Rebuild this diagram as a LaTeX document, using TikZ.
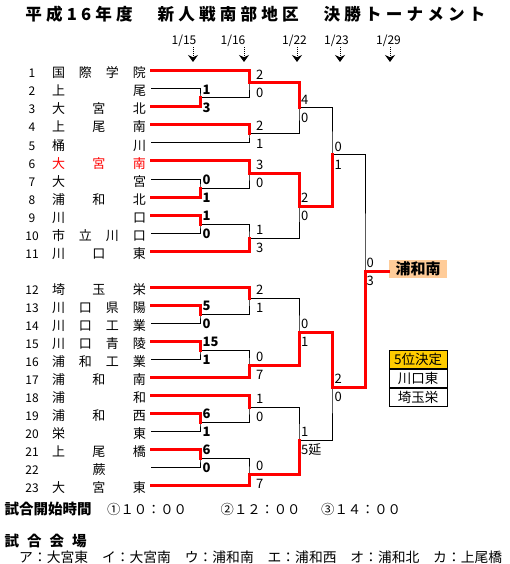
\documentclass[tikz,border=0pt]{standalone}
\usepackage{fontspec}
\setmainfont{Noto Sans CJK JP}
\usepackage{tikz}
\usepackage{xcolor}
\usetikzlibrary{arrows.meta, positioning}
\definecolor{WinRed}{HTML}{FF0000}
\definecolor{ChampPeach}{HTML}{FFCC99}
\definecolor{PlaceGold}{HTML}{FFCC00}
\newcommand{\spreadname}[1]{\hbox to 94pt{#1}}
\tikzset{
    % Team names and numbers
    teamname/.style={
        inner sep=0pt,
        outer xsep=5pt,
        text height=14pt,
        text depth=0pt,
        font=\fontsize{13}{13}\selectfont
    },
    teamno/.style={
        inner sep=0pt,
        text height=14pt,
        text depth=0pt,
        font=\fontsize{12}{12}\selectfont
    },
    % Bracket lines
    loseline/.style={
        draw=black,
        line width=1pt
    },
    winline/.style={
        draw=WinRed,
        line width=3pt,
        line cap=rect
    },
    % Scores
    score/.style={
        anchor=west,
        inner sep=0pt,
        font=\fontsize{13}{13}\selectfont
    },
    firstscore/.style={
        score,
        font=\fontsize{13}{13}\selectfont\bfseries
    },
    % Dates
    datelabel/.style={
        inner sep=0pt,
        font=\fontsize{12}{12}\selectfont
    },
    datearrow/.style={
        -{Stealth[length=7pt,width=10pt]},
        line width=1pt,
        dash pattern=on 1pt off 1pt
    },
    % Result boxes
    champbox/.style={
        rectangle,
        fill=ChampPeach,
        minimum width=58pt,
        minimum height=18pt,
        inner sep=0pt,
        font=\fontsize{15}{15}\selectfont\bfseries
    },
    placebox/.style={
        rectangle,
        draw=black,
        line width=1pt,
        fill=white,
        minimum width=58pt,
        minimum height=18pt,
        inner sep=0pt,
        font=\fontsize{13.5}{13.5}\selectfont
    },
    notetext/.style={
        anchor=west,
        inner sep=0pt,
        font=\fontsize{13.8}{13.8}\selectfont
    }
}
\begin{document}
\begin{tikzpicture}[x=1pt, y=-1pt]
    \path[use as bounding box, fill=white] (0,0) rectangle (509,564);

    % Title
    \node[font=\fontsize{16.6}{16.6}\selectfont\bfseries\addfontfeature{LetterSpace=25}] (title) at (255.5,14) {平成16年度　新人戦南部地区　決勝トーナメント};

    % Dates
    \node[datelabel] (date15) at (184,41) {1/15};
    \node[datelabel] (date16) at (233,41) {1/16};
    \node[datelabel] (date22) at (294.5,41) {1/22};
    \node[datelabel] (date23) at (336.5,41) {1/23};
    \node[datelabel] (date29) at (388.5,41) {1/29};
    \coordinate (tip15) at (193,62);
    \coordinate (tip16) at (244,62);
    \coordinate (tip22) at (297,62);
    \coordinate (tip23) at (340,62);
    \coordinate (tip29) at (390,62);
    \draw[datearrow] (tip15 |- date15.south) -- (tip15);
    \draw[datearrow] (tip16 |- date16.south) -- (tip16);
    \draw[datearrow] (tip22 |- date22.south) -- (tip22);
    \draw[datearrow] (tip23 |- date23.south) -- (tip23);
    \draw[datearrow] (tip29 |- date29.south) -- (tip29);

    % Teams
    \node[teamno] (n1) at (32,71) {1};   \node[teamname] (t1) at (99,71) {\spreadname{国\hfill 際\hfill 学\hfill 院}};
    \node[teamno] (n2) at (32,89) {2};   \node[teamname] (t2) at (99,89) {\spreadname{上\hfill 尾}};
    \node[teamno] (n3) at (32,107) {3};  \node[teamname] (t3) at (99,107) {\spreadname{大\hfill 宮\hfill 北}};
    \node[teamno] (n4) at (32,125) {4};  \node[teamname] (t4) at (99,125) {\spreadname{上\hfill 尾\hfill 南}};
    \node[teamno] (n5) at (32,143) {5};  \node[teamname] (t5) at (99,143) {\spreadname{桶\hfill 川}};
    \node[teamno] (n6) at (32,161) {6};  \node[teamname,text=WinRed] (t6) at (99,161) {\spreadname{大\hfill 宮\hfill 南}};
    \node[teamno] (n7) at (32,179) {7};  \node[teamname] (t7) at (99,179) {\spreadname{大\hfill 宮}};
    \node[teamno] (n8) at (32,197) {8};  \node[teamname] (t8) at (99,197) {\spreadname{浦\hfill 和\hfill 北}};
    \node[teamno] (n9) at (32,215) {9};  \node[teamname] (t9) at (99,215) {\spreadname{川\hfill 口}};
    \node[teamno] (n10) at (32,233) {10}; \node[teamname] (t10) at (99,233) {\spreadname{市\hfill 立\hfill 川\hfill 口}};
    \node[teamno] (n11) at (32,251) {11}; \node[teamname] (t11) at (99,251) {\spreadname{川\hfill 口\hfill 東}};
    \node[teamno] (n12) at (32,287) {12}; \node[teamname] (t12) at (99,287) {\spreadname{埼\hfill 玉\hfill 栄}};
    \node[teamno] (n13) at (32,305) {13}; \node[teamname] (t13) at (99,305) {\spreadname{川\hfill 口\hfill 県\hfill 陽}};
    \node[teamno] (n14) at (32,323) {14}; \node[teamname] (t14) at (99,323) {\spreadname{川\hfill 口\hfill 工\hfill 業}};
    \node[teamno] (n15) at (32,341) {15}; \node[teamname] (t15) at (99,341) {\spreadname{川\hfill 口\hfill 青\hfill 陵}};
    \node[teamno] (n16) at (32,359) {16}; \node[teamname] (t16) at (99,359) {\spreadname{浦\hfill 和\hfill 工\hfill 業}};
    \node[teamno] (n17) at (32,377) {17}; \node[teamname] (t17) at (99,377) {\spreadname{浦\hfill 和\hfill 南}};
    \node[teamno] (n18) at (32,395) {18}; \node[teamname] (t18) at (99,395) {\spreadname{浦\hfill 和}};
    \node[teamno] (n19) at (32,413) {19}; \node[teamname] (t19) at (99,413) {\spreadname{浦\hfill 和\hfill 西}};
    \node[teamno] (n20) at (32,431) {20}; \node[teamname] (t20) at (99,431) {\spreadname{栄\hfill 東}};
    \node[teamno] (n21) at (32,449) {21}; \node[teamname] (t21) at (99,449) {\spreadname{上\hfill 尾\hfill 橋}};
    \node[teamno] (n22) at (32,467) {22}; \node[teamname] (t22) at (99,467) {\spreadname{\hfill 蕨\hfill}};
    \node[teamno] (n23) at (32,485) {23}; \node[teamname] (t23) at (99,485) {\spreadname{大\hfill 宮\hfill 東}};

    % Match points
    \coordinate (r1a) at (200,98);  \coordinate (r1b) at (200,188); \coordinate (r1c) at (200,224);
    \coordinate (r1d) at (200,314); \coordinate (r1e) at (200,350); \coordinate (r1f) at (200,422);
    \coordinate (r1g) at (200,458);
    \coordinate (r2a) at (249,83);  \coordinate (r2b) at (249,134); \coordinate (r2c) at (249,173);
    \coordinate (r2d) at (249,238); \coordinate (r2e) at (249,298); \coordinate (r2f) at (249,365);
    \coordinate (r2g) at (249,407); \coordinate (r2h) at (249,474);
    \coordinate (r3a) at (299,108); \coordinate (r3b) at (299,206); \coordinate (r3c) at (299,332);
    \coordinate (r3d) at (299,440);
    \coordinate (r4a) at (332,155); \coordinate (r4b) at (332,387);
    \coordinate (fin) at (365,271);

    % Brackets
    \draw[loseline] (t2.east) -| (r1a) |- (t3.east);
    \draw[loseline] (t7.east) -| (r1b) |- (t8.east);
    \draw[loseline] (t9.east) -| (r1c) |- (t10.east);
    \draw[loseline] (t13.east) -| (r1d) |- (t14.east);
    \draw[loseline] (t15.east) -| (r1e) |- (t16.east);
    \draw[loseline] (t19.east) -| (r1f) |- (t20.east);
    \draw[loseline] (t21.east) -| (r1g) |- (t22.east);
    \draw[loseline] (t1.east) -| (r2a) |- (r1a);
    \draw[loseline] (t4.east) -| (r2b) |- (t5.east);
    \draw[loseline] (t6.east) -| (r2c) |- (r1b);
    \draw[loseline] (r1c) -| (r2d) |- (t11.east);
    \draw[loseline] (t12.east) -| (r2e) |- (r1d);
    \draw[loseline] (r1e) -| (r2f) |- (t17.east);
    \draw[loseline] (t18.east) -| (r2g) |- (r1f);
    \draw[loseline] (r1g) -| (r2h) |- (t23.east);
    \draw[loseline] (r2a) -| (r3a) |- (r2b);
    \draw[loseline] (r2c) -| (r3b) |- (r2d);
    \draw[loseline] (r2e) -| (r3c) |- (r2f);
    \draw[loseline] (r2g) -| (r3d) |- (r2h);
    \draw[loseline] (r3a) -| (r4a) |- (r3b);
    \draw[loseline] (r3c) -| (r4b) |- (r3d);
    \draw[loseline] (r4a) -| (fin) |- (r4b);

    % Winners
    \draw[winline] (t3.east) -| (r1a);
    \draw[winline] (t8.east) -| (r1b);
    \draw[winline] (t9.east) -| (r1c);
    \draw[winline] (t13.east) -| (r1d);
    \draw[winline] (t15.east) -| (r1e);
    \draw[winline] (t19.east) -| (r1f);
    \draw[winline] (t21.east) -| (r1g);
    \draw[winline] (t1.east) -| (r2a);
    \draw[winline] (t4.east) -| (r2b);
    \draw[winline] (t6.east) -| (r2c);
    \draw[winline] (t11.east) -| (r2d);
    \draw[winline] (t12.east) -| (r2e);
    \draw[winline] (t17.east) -| (r2f);
    \draw[winline] (t18.east) -| (r2g);
    \draw[winline] (t23.east) -| (r2h);
    \draw[winline] (r2a) -| (r3a);
    \draw[winline] (r2c) -| (r3b);
    \draw[winline] (r2f) -| (r3c);
    \draw[winline] (r2h) -| (r3d);
    \draw[winline] (r3b) -| (r4a);
    \draw[winline] (r3c) -| (r4b);
    \draw[winline] (r4b) -| (fin);

    % Scores
    \node[firstscore] (s1a) at (202.5,90) {1};   \node[firstscore] (s1A) at (202.5,108) {3};
    \node[firstscore] (s1b) at (202.5,180) {0};  \node[firstscore] (s1B) at (202.5,198) {1};
    \node[firstscore] (s1c) at (202.5,216) {1};  \node[firstscore] (s1C) at (202.5,234) {0};
    \node[firstscore] (s1d) at (202.5,306) {5};  \node[firstscore] (s1D) at (202.5,324) {0};
    \node[firstscore] (s1e) at (202.5,342) {15}; \node[firstscore] (s1E) at (202.5,360) {1};
    \node[firstscore] (s1f) at (202.5,414) {6};  \node[firstscore] (s1F) at (202.5,432) {1};
    \node[firstscore] (s1g) at (202.5,450) {6};  \node[firstscore] (s1G) at (202.5,468) {0};
    \node[score] (s2a) at (256,75) {2};  \node[score] (s2A) at (256,93) {0};
    \node[score] (s2b) at (256,126) {2}; \node[score] (s2B) at (256,144) {1};
    \node[score] (s2c) at (256,165) {3}; \node[score] (s2C) at (256,183) {0};
    \node[score] (s2d) at (256,230) {1}; \node[score] (s2D) at (256,248) {3};
    \node[score] (s2e) at (256,290) {2}; \node[score] (s2E) at (256,308) {1};
    \node[score] (s2f) at (256,357) {0}; \node[score] (s2F) at (256,375) {7};
    \node[score] (s2g) at (256,399) {1}; \node[score] (s2G) at (256,417) {0};
    \node[score] (s2h) at (256,466) {0}; \node[score] (s2H) at (256,484) {7};
    \node[score] (s3a) at (301,100) {4}; \node[score] (s3A) at (301,118) {0};
    \node[score] (s3b) at (301,198) {2}; \node[score] (s3B) at (301,216) {0};
    \node[score] (s3c) at (301,324) {0}; \node[score] (s3C) at (301,342) {1};
    \node[score] (s3d) at (301,432) {1}; \node[score] (s3D) at (301,450) {5延};
    \node[score] (s4a) at (334.5,147) {0}; \node[score] (s4A) at (334.5,165) {1};
    \node[score] (s4b) at (334.5,379) {2}; \node[score] (s4B) at (334.5,397) {0};
    \node[score] (sfa) at (366.5,263) {0}; \node[score] (sfA) at (366.5,281) {3};

    % Champion
    \node[champbox] (champ) at (418,269) {浦和南};
    \draw[winline] (fin) -- (fin -| champ.west);

    % Fifth place
    \node[placebox,fill=PlaceGold] (fifth) at (418,359) {5位決定};
    \node[placebox,below=0pt of fifth] (fifthA) {川口東};
    \node[placebox,below=0pt of fifthA] (fifthB) {埼玉栄};

    % Notes
    \node[notetext,font=\fontsize{14.5}{14.5}\selectfont\bfseries] (timehead) at (4.5,509) {試合開始時間};
    \node[notetext,font=\fontsize{13.3}{13.3}\selectfont] (time1) at (107,509) {①１０：００};
    \node[notetext,font=\fontsize{13.3}{13.3}\selectfont] (time2) at (220.5,509) {②１２：００};
    \node[notetext,font=\fontsize{13.3}{13.3}\selectfont] (time3) at (321,509) {③１４：００};
    \node[notetext,font=\fontsize{14.5}{14.5}\selectfont\bfseries] (venuehead) at (4.5,541) {試\hspace{8pt}合\hspace{8pt}会\hspace{8pt}場};
    \node[notetext] (venues) at (19,557) {ア：大宮東　イ：大宮南　ウ：浦和南　エ：浦和西　オ：浦和北　カ：上尾橋};
\end{tikzpicture}
\end{document}
